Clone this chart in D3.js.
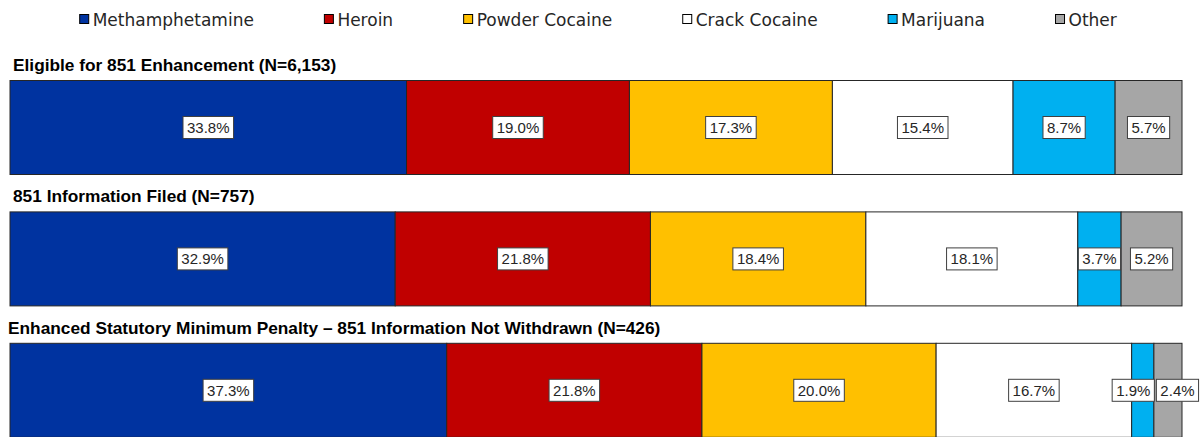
<!DOCTYPE html>
<html>
<head>
<meta charset="utf-8">
<script src="https://cdn.jsdelivr.net/npm/d3@7"></script>
<style>
  html, body { margin: 0; padding: 0; background: #fff; }
  svg { display: block; }
</style>
</head>
<body>
<svg id="chart" width="1201" height="437"></svg>
<script>
// Drug type shares (%) for each stage of the 851 enhancement process
const categories = ["Methamphetamine", "Heroin", "Powder Cocaine", "Crack Cocaine", "Marijuana", "Other"];
const groups = [
  "Eligible for 851 Enhancement (N=6,153)",
  "851 Information Filed (N=757)",
  "Enhanced Statutory Minimum Penalty \u2013 851 Information Not Withdrawn (N=426)"
];
const eligible     = [33.8, 19.0, 17.3, 15.4, 8.7, 5.7];
const filed        = [32.9, 21.8, 18.4, 18.1, 3.7, 5.2];
const notWithdrawn = [37.3, 21.8, 20.0, 16.7, 1.9, 2.4];
const colors = ["#0033A0", "#C00000", "#FFC000", "#FFFFFF", "#00B0F0", "#A6A6A6"];

const rows = [eligible, filed, notWithdrawn];

const svg = d3.select("#chart");

// ---- layout ----
const plotLeft = 10, plotRight = 1182;
const titleX = [13, 13, 8];

const y = d3.scaleBand()
  .domain(groups)
  .range([80.5, 437.3])
  .paddingInner(0.2846)
  .paddingOuter(0);

const color = d3.scaleOrdinal().domain(categories).range(colors);

// ---- legend ----
const legend = svg.append("g").attr("class", "legend");
const legendItems = legend.selectAll("g")
  .data(categories)
  .join("g");

legendItems.append("rect")
  .attr("x", 0.5).attr("y", 14.5)
  .attr("width", 9).attr("height", 9)
  .attr("fill", d => color(d))
  .attr("stroke", "#000")
  .attr("stroke-width", 1);

legendItems.append("text")
  .attr("x", 13.5).attr("y", 25.5)
  .attr("font-family", "DejaVu Sans, sans-serif")
  .attr("font-size", 17)
  .attr("fill", "#262626")
  .text(d => d);

// place entries side by side, centred across the chart
const gap = 70;
const widths = [];
legendItems.each(function () {
  widths.push(13.5 + d3.select(this).select("text").node().getComputedTextLength());
});
const totalW = d3.sum(widths) + gap * (widths.length - 1);
let lx = 598 - totalW / 2;
legendItems.attr("transform", (d, i) => {
  const t = `translate(${lx},0)`;
  lx += widths[i] + gap;
  return t;
});

// ---- bars ----
rows.forEach((values, r) => {
  const group = groups[r];
  const total = d3.sum(values);
  const x = d3.scaleLinear().domain([0, total]).range([plotLeft, plotRight]);
  const ends = d3.cumsum(values);
  const segs = values.map((v, i) => ({
    cat: categories[i],
    value: v,
    x0: i === 0 ? 0 : ends[i - 1],
    x1: ends[i]
  }));

  const top = y(group);
  const g = svg.append("g").attr("class", "row");

  g.append("text")
    .attr("x", titleX[r])
    .attr("y", top - 9.5)
    .attr("font-family", "Liberation Sans, Arial, sans-serif")
    .attr("font-weight", "bold")
    .attr("font-size", 17.3)
    .attr("fill", "#000")
    .text(group);

  g.selectAll("rect.seg")
    .data(segs)
    .join("rect")
    .attr("class", "seg")
    .attr("x", d => x(d.x0))
    .attr("y", top)
    .attr("width", d => x(d.x1) - x(d.x0))
    .attr("height", y.bandwidth())
    .attr("fill", d => color(d.cat))
    .attr("stroke", "#262626")
    .attr("stroke-width", 1);

  // value labels in white boxes
  const cy = top + y.bandwidth() / 2;
  const labels = g.selectAll("g.lab")
    .data(segs)
    .join("g")
    .attr("class", "lab");

  const txt = labels.append("text")
    .attr("text-anchor", "middle")
    .attr("y", 5.5)
    .attr("font-family", "Liberation Sans, Arial, sans-serif")
    .attr("font-size", 15)
    .attr("fill", "#262626")
    .text(d => d.value.toFixed(1) + "%");

  const info = [];
  txt.each(function (d) {
    const w = this.getComputedTextLength() + 8;
    info.push({ c: x((d.x0 + d.x1) / 2), w });
  });

  // nudge overlapping labels apart
  for (let pass = 0; pass < 10; pass++) {
    for (let i = 1; i < info.length; i++) {
      const a = info[i - 1], b = info[i];
      const need = a.w / 2 + b.w / 2 + 2;
      const have = b.c - a.c;
      if (have < need) {
        const shift = (need - have) / 2;
        a.c -= shift;
        b.c += shift;
      }
    }
  }

  labels.attr("transform", (d, i) => `translate(${info[i].c},${cy})`);
  labels.insert("rect", "text")
    .attr("x", (d, i) => -info[i].w / 2)
    .attr("y", -11)
    .attr("width", (d, i) => info[i].w)
    .attr("height", 22)
    .attr("fill", "#fff")
    .attr("stroke", "#404040")
    .attr("stroke-width", 1);
});
</script>
</body>
</html>
